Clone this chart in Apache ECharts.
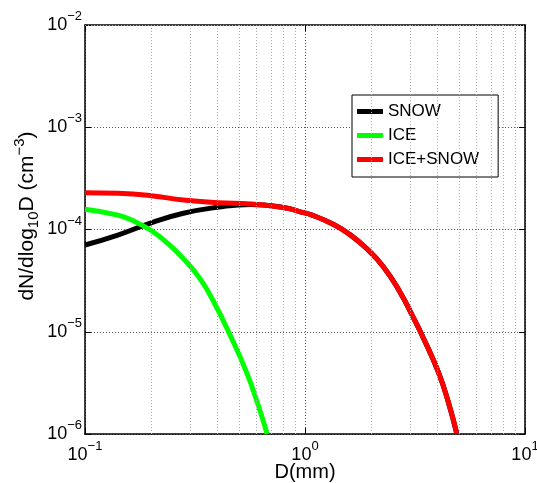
<!DOCTYPE html>
<html><head><meta charset="utf-8">
<script src="https://cdn.jsdelivr.net/npm/echarts@6/dist/echarts.min.js"></script>
<style>html,body{margin:0;padding:0;background:#fff}#c{width:537px;height:483px}</style>
</head><body><div id="c"></div>
<script>
// ---- data ----
const seriesNames = ['SNOW', 'ICE', 'ICE+SNOW'];
const dSnow = [0.1, 0.141, 0.2, 0.28, 0.4, 0.57, 0.81, 0.95, 1.07, 1.35, 1.6, 1.9, 2.27, 2.7, 3.1, 3.45, 4.03, 4.47, 4.89];
const nSnow = [7.05e-5, 8.83e-5, 1.16e-4, 1.44e-4, 1.65e-4, 1.76e-4, 1.63e-4, 1.49e-4, 1.39e-4, 1.12e-4, 8.91e-5, 6.55e-5, 4.33e-5, 2.45e-5, 1.39e-5, 8.7e-6, 4.07e-6, 2.09e-6, 1.02e-6];
const dIce = [0.1, 0.141, 0.169, 0.2, 0.239, 0.28, 0.333, 0.383, 0.456, 0.543, 0.613, 0.673];
const nIce = [1.58e-4, 1.38e-4, 1.19e-4, 9.77e-5, 7.24e-5, 5.19e-5, 3.31e-5, 2.0e-5, 9.33e-6, 3.98e-6, 1.91e-6, 1.0e-6];
const dTotal = [0.1, 0.141, 0.2, 0.28, 0.4, 0.57, 0.81, 0.95, 1.07, 1.35, 1.6, 1.9, 2.27, 2.7, 3.1, 3.45, 4.03, 4.47, 4.89];
const nTotal = [2.29e-4, 2.26e-4, 2.14e-4, 1.94e-4, 1.83e-4, 1.78e-4, 1.63e-4, 1.49e-4, 1.39e-4, 1.12e-4, 8.91e-5, 6.55e-5, 4.33e-5, 2.45e-5, 1.39e-5, 8.7e-6, 4.07e-6, 2.09e-6, 1.02e-6];
const xMin = 0.1, xMax = 10;
const yMin = 1e-6, yMax = 1e-2;
const xDecades = [-1, 0];        // minor grid decades on x
const yDecades = [-6, -5, -4, -3];
const mantissas = [2, 3, 4, 5, 6, 7, 8, 9];
const xName = 'D(mm)';

// ---- build ----
const FONT = 'Liberation Sans, Arial, Helvetica, sans-serif';
function pair(xs, ys) { return xs.map((x, i) => [x, ys[i]]); }
function expLabel(v) {
  const e = Math.round(Math.log10(v));
  const s = (e < 0 ? '−' + (-e) : '' + e);
  return '{b|10}{s|' + s + '}';
}
const labelRich = {
  b: { fontSize: 18, lineHeight: 30, fontFamily: FONT, color: '#000', verticalAlign: 'middle' },
  s: { fontSize: 13, lineHeight: 13, fontFamily: FONT, color: '#000', verticalAlign: 'top' }
};
const xMinor = [], yMinor = [];
xDecades.forEach(d => mantissas.forEach(m => xMinor.push({ xAxis: m * Math.pow(10, d) })));
yDecades.forEach(d => mantissas.forEach(m => yMinor.push({ yAxis: m * Math.pow(10, d) })));

const majorSplit = { show: true, lineStyle: { color: '#555', type: [1, 2], width: 1 } };
const chart = echarts.init(document.getElementById('c'), null, { renderer: 'canvas' });
chart.setOption({
  animation: false,
  backgroundColor: '#fff',
  grid: { left: 85, top: 25, right: 12, bottom: 49, containLabel: false, outerBoundsMode: 'none' },
  xAxis: [{
    type: 'log', logBase: 10, min: xMin, max: xMax, position: 'bottom',
    name: xName, nameLocation: 'middle', nameGap: 28, nameMoveOverlap: false,
    nameTextStyle: { fontSize: 20, fontFamily: FONT, color: '#000', verticalAlign: 'top' },
    axisLine: { show: true, onZero: false, lineStyle: { color: '#000', width: 1.5 } },
    axisTick: { show: true, inside: true, length: 6, lineStyle: { color: '#000' } },
    axisLabel: { margin: 6, formatter: expLabel, rich: labelRich, verticalAlign: 'top' },
    splitLine: majorSplit, minorTick: { show: false }
  }, {
    type: 'log', logBase: 10, min: xMin, max: xMax, position: 'top',
    axisLine: { show: true, onZero: false, lineStyle: { color: '#000', width: 1.5 } },
    axisTick: { show: true, inside: true, length: 6, lineStyle: { color: '#000' } },
    axisLabel: { show: false }, splitLine: { show: false }
  }],
  yAxis: [{
    type: 'log', logBase: 10, min: yMin, max: yMax, position: 'left',
    axisLine: { show: true, onZero: false, lineStyle: { color: '#000', width: 1.5 } },
    axisTick: { show: true, inside: true, length: 6, lineStyle: { color: '#000' } },
    axisLabel: { margin: 3, formatter: expLabel, rich: labelRich, align: 'right', verticalAlign: 'middle' },
    splitLine: majorSplit
  }, {
    type: 'log', logBase: 10, min: yMin, max: yMax, position: 'right',
    axisLine: { show: true, onZero: false, lineStyle: { color: '#000', width: 1.5 } },
    axisTick: { show: true, inside: true, length: 6, lineStyle: { color: '#000' } },
    axisLabel: { show: false }, splitLine: { show: false }
  }],
  legend: {
    data: seriesNames, orient: 'vertical', left: 352, top: 95,
    backgroundColor: '#fff', borderColor: '#000', borderWidth: 1,
    padding: [8, 19, 9, 5], itemGap: 7, itemWidth: 26, itemHeight: 5, icon: 'rect',
    textStyle: { fontSize: 17, fontFamily: FONT, color: '#000' }
  },
  graphic: [{
    type: 'text', x: 27, y: 216, rotation: Math.PI / 2, z: 10,
    style: {
      text: '{b|dN/dlog}{sub|10}{b|D (cm}{sup|−3}{b|)}',
      align: 'center', verticalAlign: 'middle',
      rich: {
        b: { fontSize: 21, lineHeight: 29, fontFamily: FONT, fill: '#000', verticalAlign: 'middle' },
        sub: { fontSize: 15, lineHeight: 15, fontFamily: FONT, fill: '#000', verticalAlign: 'bottom' },
        sup: { fontSize: 15, lineHeight: 15, fontFamily: FONT, fill: '#000', verticalAlign: 'top' }
      }
    }
  }],
  series: [
    {
      type: 'line', name: '_grid', data: [], silent: true, z: 1,
      markLine: {
        silent: true, symbol: 'none', label: { show: false }, animation: false,
        lineStyle: { color: '#aaa', type: [1, 2], width: 1 },
        data: xMinor.concat(yMinor)
      }
    },
    { type: 'line', name: seriesNames[0], data: pair(dSnow, nSnow), smooth: 0.5, symbol: 'none', z: 3,
      color: '#000', lineStyle: { width: 5, color: '#000' } },
    { type: 'line', name: seriesNames[1], data: pair(dIce, nIce), smooth: 0.5, symbol: 'none', z: 3,
      color: '#00ff00', lineStyle: { width: 5, color: '#00ff00' } },
    { type: 'line', name: seriesNames[2], data: pair(dTotal, nTotal), smooth: 0.5, symbol: 'none', z: 3,
      color: '#ff0000', lineStyle: { width: 5, color: '#ff0000' } }
  ]
});
</script></body></html>
